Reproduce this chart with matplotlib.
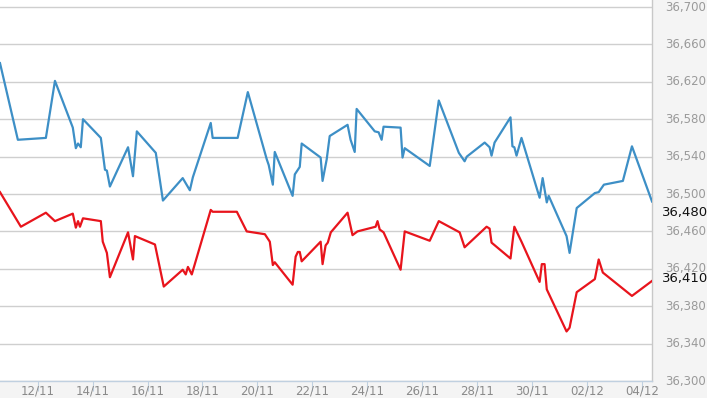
import matplotlib
matplotlib.use("Agg")
import matplotlib.pyplot as plt

# x = day number (Nov d -> d, Dec d -> 30 + d)
blue_x = [10.63, 11.28, 12.30, 12.63, 13.28, 13.39, 13.47, 13.57, 13.65, 14.30, 14.45, 14.52,
          14.63, 15.29, 15.47, 15.61, 16.30, 16.56, 17.28, 17.54, 17.65, 18.30, 18.37, 19.28,
          19.65, 20.34, 20.41, 20.56, 20.63, 21.28, 21.36, 21.54, 21.61, 22.30, 22.37, 22.52,
          22.63, 23.28, 23.39, 23.54, 23.61, 24.27, 24.41, 24.52, 24.59, 25.21, 25.28, 25.36,
          26.27, 26.60, 27.33, 27.54, 27.62, 28.27, 28.45, 28.52, 28.63, 29.21, 29.28, 29.35,
          29.43, 29.61, 30.27, 30.38, 30.53, 30.60, 31.25, 31.36, 31.62, 32.28, 32.42, 32.61,
          33.30, 33.63, 34.36]
blue_y = [36640, 36558, 36560, 36621, 36571, 36549, 36554, 36550, 36580, 36560, 36526, 36525,
          36508, 36550, 36519, 36567, 36544, 36493, 36517, 36504, 36518, 36576, 36560, 36560,
          36609, 36537, 36531, 36510, 36545, 36498, 36521, 36529, 36554, 36539, 36514, 36537,
          36562, 36574, 36558, 36545, 36591, 36567, 36566, 36558, 36572, 36571, 36539, 36549,
          36530, 36600, 36544, 36535, 36540, 36555, 36550, 36541, 36555, 36582, 36551, 36550,
          36541, 36560, 36496, 36517, 36491, 36498, 36455, 36437, 36485, 36501, 36502, 36510,
          36514, 36551, 36492]

red_x = [10.63, 11.39, 12.30, 12.63, 13.28, 13.39, 13.47, 13.54, 13.65, 14.30, 14.37, 14.52,
         14.63, 15.29, 15.47, 15.54, 16.27, 16.59, 17.28, 17.39, 17.47, 17.61, 18.30, 18.37,
         19.25, 19.61, 20.27, 20.45, 20.56, 20.63, 21.28, 21.39, 21.47, 21.54, 21.61, 22.30,
         22.37, 22.48, 22.56, 22.67, 23.28, 23.46, 23.64, 24.30, 24.37, 24.45, 24.59, 25.21,
         25.36, 26.27, 26.60, 27.36, 27.54, 28.34, 28.45, 28.52, 29.21, 29.35, 29.61, 30.27,
         30.35, 30.45, 30.53, 31.25, 31.36, 31.62, 32.28, 32.42, 32.57, 33.63, 34.36]
red_y = [36502, 36465, 36480, 36471, 36479, 36464, 36471, 36465, 36474, 36471, 36449, 36437,
         36411, 36459, 36430, 36455, 36446, 36401, 36419, 36414, 36422, 36414, 36483, 36481,
         36481, 36460, 36457, 36449, 36424, 36427, 36403, 36433, 36438, 36438, 36428, 36449,
         36425, 36445, 36448, 36459, 36480, 36456, 36460, 36465, 36471, 36462, 36459, 36419,
         36460, 36450, 36471, 36459, 36443, 36465, 36463, 36448, 36431, 36465, 36449, 36406,
         36425, 36425, 36398, 36353, 36357, 36395, 36409, 36430, 36416, 36391, 36407]

x_ticks = [12, 14, 16, 18, 20, 22, 24, 26, 28, 30, 32, 34]
x_labels = ["12/11", "14/11", "16/11", "18/11", "20/11", "22/11", "24/11",
            "26/11", "28/11", "30/11", "02/12", "04/12"]
y_ticks = [36300, 36340, 36380, 36420, 36460, 36500, 36540, 36580, 36620, 36660, 36700]
y_labels = ["36,300", "36,340", "36,380", "36,420", "36,460", "36,500", "36,540",
            "36,580", "36,620", "36,660", "36,700"]
last_values = [36480, 36410]
last_labels = ["36,480", "36,410"]

W, H = 707, 398
fig = plt.figure(figsize=(W / 100, H / 100), dpi=100)
fig.patch.set_facecolor("#f4f4f4")
ax = fig.add_axes([0, 17 / H, 652 / W, 1 - 17 / H])
ax.set_facecolor("white")

ax.set_xlim(10.63, 34.36)
ax.set_ylim(36300, 36707.5)

for v in y_ticks:
    ax.axhline(v, color="#cfcfcf", lw=1.0, zorder=1)

ax.plot(blue_x, blue_y, color="#3d8fc6", lw=1.6, zorder=3, solid_joinstyle="round")
ax.plot(red_x, red_y, color="#e8141c", lw=1.6, zorder=3, solid_joinstyle="round")

for s in ["top", "left"]:
    ax.spines[s].set_visible(False)
ax.spines["right"].set_color("#c8c8c8")
ax.spines["bottom"].set_color("#c0d0e0")
ax.spines["right"].set_linewidth(1.0)
ax.spines["bottom"].set_linewidth(1.0)

ax.set_xticks(x_ticks)
ax.set_xticklabels(x_labels)
ax.tick_params(axis="x", direction="out", length=7, color="#c0d0e0", pad=-4.5,
               labelsize=8.5, labelcolor="#8a8a8a")
ax.set_yticks([])

trans = ax.get_yaxis_transform()
for v, lab in zip(y_ticks, y_labels):
    ax.text(1.02, v, lab, transform=trans, ha="left", va="center",
            fontsize=8.5, color="#9a9a9a", clip_on=False)
for v, lab in zip(last_values, last_labels):
    ax.text(1.015, v, lab, transform=trans, ha="left", va="center",
            fontsize=9.5, color="#111111", clip_on=False, zorder=5)

fig.savefig("out.png", dpi=100, facecolor=fig.get_facecolor())
